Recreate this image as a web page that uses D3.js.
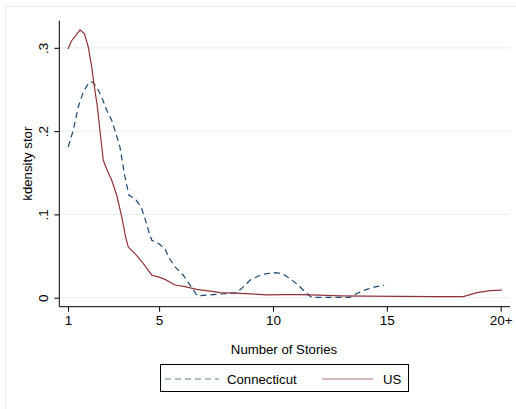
<!DOCTYPE html>
<html><head><meta charset="utf-8">
<script src="https://cdn.jsdelivr.net/npm/d3@7"></script>
<style>body{margin:0;background:#fff}svg{display:block}text{font-family:"Liberation Sans",Arial,sans-serif;fill:#000}</style>
</head><body>
<script>
// Data (x = number of stories, y = kernel density)
const usX = [1,1.16,1.34,1.53,1.72,1.89,2.04,2.16,2.29,2.40,2.55,2.70,2.92,3.14,3.36,3.53,3.65,3.94,4.31,4.68,4.97,5.26,5.70,6.14,6.65,7.24,7.68,8.55,9.73,10.5,11.2,12.0,13.0,14.0,15.5,17.0,18.36,18.95,19.53,20.05];
const usY = [0.2986,0.3085,0.3145,0.3214,0.317,0.301,0.277,0.253,0.229,0.201,0.165,0.1545,0.141,0.123,0.097,0.073,0.0605,0.053,0.041,0.027,0.025,0.022,0.0152,0.0132,0.010,0.008,0.006,0.0053,0.0035,0.0038,0.0036,0.0030,0.0022,0.0018,0.0015,0.0013,0.0012,0.006,0.0084,0.0092];
const ctX = [1.01,1.23,1.45,1.67,1.89,2.07,2.26,2.48,2.70,2.92,3.06,3.28,3.50,3.68,3.94,4.21,4.38,4.53,4.68,4.97,5.26,5.41,5.70,6.06,6.36,6.68,7.09,7.68,8.41,8.70,8.99,9.36,9.73,10.1,10.4,10.75,11.11,11.48,11.70,13.38,13.68,14.12,14.48,14.88];
const ctY = [0.181,0.201,0.229,0.247,0.257,0.259,0.253,0.241,0.225,0.213,0.201,0.181,0.145,0.123,0.119,0.109,0.095,0.081,0.069,0.065,0.059,0.049,0.037,0.027,0.015,0.0024,0.003,0.0044,0.006,0.013,0.021,0.026,0.029,0.030,0.029,0.023,0.015,0.005,0.0005,0.0005,0.005,0.010,0.013,0.015];
const xTicks = [1,5,10,15,20];
const xTickLabels = ["1","5","10","15","20+"];
const yTicks = [0,0.1,0.2,0.3];
const yTickLabels = ["0",".1",".2",".3"];
const seriesNames = ["Connecticut","US"];
const colors = ["#1a476f","#90353b"];

const W = 516, H = 409;
const svg = d3.select("body").append("svg").attr("width",W).attr("height",H);
// outer graph region border
svg.append("rect").attr("x",5.5).attr("y",6.5).attr("width",W).attr("height",H)
  .attr("fill","#fff").attr("stroke","#e8eff2").attr("stroke-width",1);

const x = d3.scaleLinear().domain([1,20]).range([68,500.7]);
const y = d3.scaleLinear().domain([0,0.1]).range([297.7,214.4]);
const plotL = 59.3, plotR = 510, plotT = 20.7, plotB = 306.7;
const FONT = "Liberation Sans, Arial, sans-serif";

// gridlines
svg.append("g").selectAll("line").data(yTicks).join("line")
  .attr("x1",plotL).attr("x2",plotR)
  .attr("y1",d=>y(d)).attr("y2",d=>y(d))
  .attr("stroke","#eaf2f3").attr("stroke-width",1.2);

// y axis
const yAxis = d3.axisLeft(y).tickValues(yTicks).tickFormat((d,i)=>yTickLabels[i]).tickSize(5);
const gy = svg.append("g").attr("transform",`translate(${plotL},0)`).call(yAxis);
gy.select(".domain").remove();
gy.append("line").attr("x1",0).attr("x2",0).attr("y1",plotT).attr("y2",plotB).attr("stroke","#000");
gy.selectAll(".tick line").attr("stroke","#000");
gy.selectAll(".tick text").attr("font-size",13.5).attr("font-family",FONT).attr("text-anchor","middle")
  .attr("transform","translate(-11.5,0) rotate(-90)").attr("x",0).attr("y",0).attr("dy","0");

// x axis
const xAxis = d3.axisBottom(x).tickValues(xTicks).tickFormat((d,i)=>xTickLabels[i]).tickSize(5).tickPadding(4);
const gx = svg.append("g").attr("transform",`translate(0,${plotB})`).call(xAxis);
gx.select(".domain").remove();
gx.append("line").attr("x1",plotL).attr("x2",plotR).attr("y1",0).attr("y2",0).attr("stroke","#000");
gx.selectAll(".tick line").attr("stroke","#000");
gx.selectAll(".tick text").attr("font-size",13.5).attr("font-family",FONT);

// axis titles
svg.append("text").attr("x",284).attr("y",353.5).attr("text-anchor","middle")
  .attr("font-size",13.2).text("Number of Stories");
svg.append("text").attr("transform",`translate(32,${(plotT+plotB)/2}) rotate(-90)`).attr("text-anchor","middle")
  .attr("font-size",13.2).text("kdensity stor");

// lines
const line = d3.line().x(d=>x(d[0])).y(d=>y(d[1])).curve(d3.curveLinear);
const ctData = ctX.map((v,i)=>[v,ctY[i]]);
const usData = usX.map((v,i)=>[v,usY[i]]);
svg.append("path").datum(ctData).attr("d",line).attr("fill","none")
  .attr("stroke",colors[0]).attr("stroke-width",1.2).attr("stroke-dasharray","6,4");
svg.append("path").datum(usData).attr("d",line).attr("fill","none")
  .attr("stroke",colors[1]).attr("stroke-width",1.2);

// legend
const lg = svg.append("g");
lg.append("rect").attr("x",160.5).attr("y",364.5).attr("width",248).attr("height",27)
  .attr("fill","#fff").attr("stroke","#000").attr("stroke-width",1);
lg.append("line").attr("x1",165).attr("x2",219).attr("y1",379).attr("y2",379)
  .attr("stroke",colors[0]).attr("stroke-width",1.2).attr("stroke-dasharray","6,4").attr("opacity",0.7);
lg.append("text").attr("x",227).attr("y",383.8).attr("font-size",13.2).text(seriesNames[0]);
lg.append("line").attr("x1",322).attr("x2",373).attr("y1",379).attr("y2",379)
  .attr("stroke",colors[1]).attr("stroke-width",1.2).attr("opacity",0.7);
lg.append("text").attr("x",383).attr("y",383.8).attr("font-size",13.2).text(seriesNames[1]);
</script>
</body></html>
